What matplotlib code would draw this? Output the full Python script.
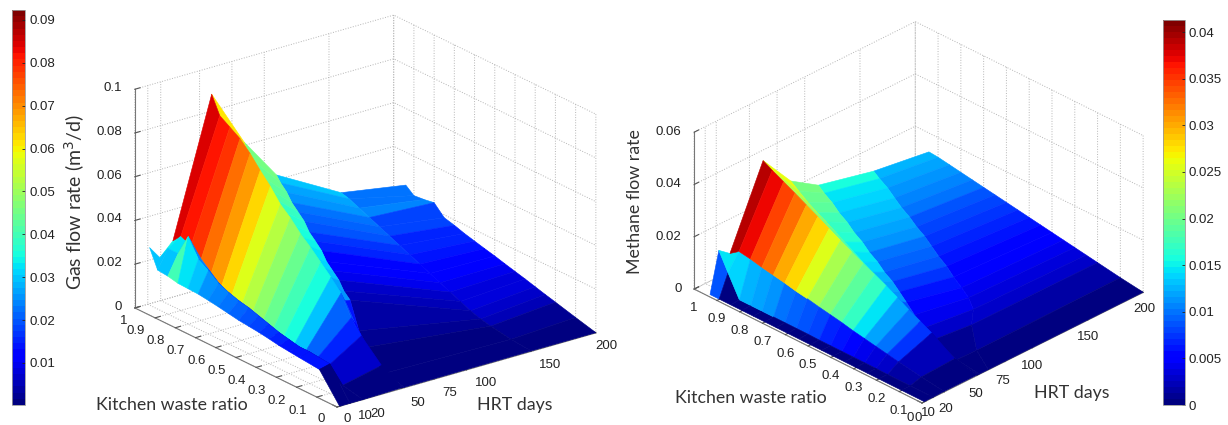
import numpy as np
import matplotlib
matplotlib.use("Agg")
import matplotlib.pyplot as plt
from matplotlib.colors import Normalize
from matplotlib.cm import ScalarMappable
from mpl_toolkits.mplot3d import proj3d

W, H = 1228, 425
plt.rcParams['font.family'] = ['Liberation Sans', 'DejaVu Sans']

# grid
ratio = [0, .1, .2, .25, .3, .35, .4, .45, .5, .55, .6, .65, .7, .75, .8, .85, .9, .94]
n = len(ratio)

gas_2 = [0, .0123, .0132, .0137, .0142, .015, .0157, .0162, .0167, .0175, .0183, .019, .0196, .0198, .020, .021, .0215, .030]
gas_10 = [0, .0135, .0145, .0145, .0155, .0165, .018, .0195, .021, .022, .0235, .0255, .029, .032, .040, .030, .030, .024]
gas_20 = [0, .002, .004, .005, .006, .0075, .009, .0105, .012, .014, .016, .018, .020, .024, .028, .032, .034, .030]
gas_50 = [.0003, .006, .015, .021, .030, .035, .0395, .044, .048, .053, .057, .063, .068, .0735, .078, .081, .084, .092]
gas_75 = [.0002, .003, .012, .018, .026, .030, .032, .034, .036, .039, .041, .044, .047, .050, .053, .056, .061, .0659]
gas_100 = [.0002, .002, .009, .014, .0256, .027, .029, .0305, .032, .034, .0356, .037, .039, .0405, .042, .0437, .0453, .0466]
gas_150 = [.0002, .001, .0025, .0035, .005, .007, .009, .011, .013, .015, .017, .019, .021, .023, .025, .027, .029, .030]
gas_200 = [.0001, .0025, .005, .0062, .0075, .0088, .010, .0112, .0125, .0136, .0148, .016, .0175, .0187, .0233, .0225, .022, .025]

# the far rows lean towards small HRT at small ratio
gas_h75 = [51, 51, 52, 53, 53, 54, 56, 58, 59, 61, 62, 64, 66, 68, 69, 71, 73, 75]
gas_h100 = [52, 53, 55, 56, 57, 60, 64, 67, 70, 74, 77, 80, 84, 87, 90, 94, 97, 100]

ch4_2 = [.0001] * n
ch4_10 = [.0001, .0001, .0001, .0002, .0002, .0002, .0002, .0002, .0002, .0003, .0003, .0003, .0003, .0003, .0003, .0003, .0085, .0153]
ch4_20 = [.0002, .0014, .0028, .0036, .0044, .0052, .006, .007, .0078, .0086, .0095, .0102, .0112, .012, .0128, .0138, .0145, .012]
ch4_50 = [.0002, .002, .0075, .0098, .012, .0145, .0168, .019, .021, .0232, .0255, .0278, .0302, .0325, .0348, .037, .0392, .0412]
ch4_75 = [.0001, .0013, .005, .007, .0095, .012, .0135, .0148, .016, .0172, .0185, .0197, .021, .0222, .0232, .0245, .0262, .0281]
ch4_100 = [.0001, .0012, .0045, .0065, .009, .011, .012, .0129, .0137, .0146, .0154, .0163, .0171, .018, .0188, .0197, .0205, .0212]
ch4_150 = [.0001, .001, .003, .0042, .0052, .006, .0073, .0084, .0094, .0102, .011, .0118, .0125, .0133, .014, .0148, .0155, .016]
ch4_200 = [.0001, .0013, .0027, .0034, .0041, .0048, .0055, .0062, .0069, .0076, .0083, .009, .0097, .0104, .0111, .0118, .0125, .0128]

ch4_h75 = [51, 51, 51, 52, 52, 54, 55, 57, 58, 60, 62, 64, 66, 68, 70, 72, 74, 75]
ch4_h100 = [52, 52, 53, 54, 55, 58, 62, 66, 69, 73, 76, 80, 83, 87, 90, 94, 97, 100]
ch4_h150 = [60, 70, 86, 98, 104, 108, 111, 115, 118, 122, 126, 129, 133, 136, 140, 144, 147, 150]

gas = np.array([gas_2, gas_10, gas_20, gas_50, gas_75, gas_100, gas_150, gas_200])
ch4 = np.array([ch4_2, ch4_10, ch4_20, ch4_50, ch4_75, ch4_100, ch4_150, ch4_200])
gas_x = np.array([[2] * n, [10] * n, [20] * n, [50] * n, gas_h75, gas_h100, [150] * n, [200] * n], dtype=float)
ch4_x = np.array([[2] * n, [10] * n, [20] * n, [50] * n, ch4_h75, ch4_h100, ch4_h150, [200] * n], dtype=float)

hrt_ticks = [0, 10, 20, 50, 75, 100, 150, 200]
hrt_labels = ['0', '10', '20', '50', '75', '100', '150', '200']
ratio_ticks = [0, .1, .2, .3, .4, .5, .6, .7, .8, .9, 1]
ratio_labels = ['0', '0.1', '0.2', '0.3', '0.4', '0.5', '0.6', '0.7', '0.8', '0.9', '1']
gas_ticks = [0, .02, .04, .06, .08, .1]
gas_labels = ['0', '0.02', '0.04', '0.06', '0.08', '0.1']
ch4_ticks = [0, .02, .04, .06]
ch4_labels = ['0', '0.02', '0.04', '0.06']
gas_bar_ticks = [.01, .02, .03, .04, .05, .06, .07, .08, .09]
ch4_bar_ticks = [0, .005, .01, .015, .02, .025, .03, .035, .04]
ch4_bar_labels = ['0', '0.005', '0.01', '0.015', '0.02', '0.025', '0.03', '0.035', '0.04']

jet = plt.get_cmap('jet', 64)
fig = plt.figure(figsize=(W / 100, H / 100), dpi=100)
tick_font = dict(fontsize=9.5, color='#222222')


def px_rect(l, t, w, h):
    return [l / W, 1 - (t + h) / H, w / W, h / H]


def to_px(ax, x, y, z):
    xs, ys, _ = proj3d.proj_transform(x, y, z, ax.get_proj())
    return ax.transData.transform((xs, ys))


def surface(xgrid, z, zmax, zticks, clim, elev, azim, aspect, left, front, right):
    ax = fig.add_axes(px_rect(0, 0, 600, 600), projection='3d')
    ax.set_proj_type('ortho')
    ax.set_box_aspect(aspect)
    ax.view_init(elev=elev, azim=azim)
    ax.patch.set_alpha(0)
    Y = np.array([ratio] * len(z))
    # matlab flat shading: colour of a facet comes from one of its vertices
    cols = jet(Normalize(*clim)(z))
    ax.plot_surface(xgrid[::-1], Y[::-1], z[::-1], facecolors=cols[::-1],
                    shade=False, rstride=1, cstride=1, linewidth=.4)
    ax.set_xlim(0, 200, view_margin=0)
    ax.set_ylim(0, 1, view_margin=0)
    ax.set_zlim(0, zmax, view_margin=0)
    ax.set_xticks(hrt_ticks)
    ax.set_yticks(ratio_ticks)
    ax.set_zticks(zticks)
    ax.set_xticklabels([])
    ax.set_yticklabels([])
    ax.set_zticklabels([])
    for axis in (ax.xaxis, ax.yaxis, ax.zaxis):
        axis.set_pane_color((1, 1, 1, 0))
        axis.pane.set_edgecolor('#bbbbbb')
        axis.pane.set_linestyle(':')
        axis.pane.set_linewidth(.7)
        axis.line.set_color('#777777')
        axis.line.set_linewidth(.8)
        axis._axinfo['grid'].update(color='#b5b5b5', linestyle=':', linewidth=.7)
        axis._axinfo['tick'].update(inward_factor=0.0, outward_factor=.25)
    ax.tick_params(axis='both', colors='#555555')

    # move the box on to the pixels of the reference corners
    for i in range(3):
        fig.canvas.draw()
        p0 = to_px(ax, 0, 1, 0)
        p1 = to_px(ax, 0, 0, 0)
        p2 = to_px(ax, 200, 0, 0)
        pos = ax.get_position(original=True)
        size = pos.width * W * (right[0] - left[0]) / (p2[0] - p0[0])
        cx = pos.x0 * W + pos.width * W / 2
        cy = pos.y0 * H + pos.height * H / 2
        if i > 0:
            cx += front[0] - p1[0]
            cy += (H - front[1]) - p1[1]
        ax.set_position([(cx - size / 2) / W, (cy - size / 2) / H, size / W, size / H])
    fig.canvas.draw()
    return ax


def put_label(ax, p, text, off, ha='center'):
    x, y = to_px(ax, *p)
    fig.text((x + off[0]) / W, (y - off[1]) / H, text, ha=ha, va='center', **tick_font)


def colorbar(rect, clim, ticks, labels):
    cax = fig.add_axes(px_rect(*rect))
    cb = fig.colorbar(ScalarMappable(Normalize(*clim), jet), cax=cax)
    cb.set_ticks(ticks)
    if labels is not None:
        cb.set_ticklabels(labels)
    cax.tick_params(labelsize=9.5, length=2, direction='in', pad=3, colors='#222222', width=.6)
    cb.outline.set_edgecolor('#999999')
    cb.outline.set_linewidth(.6)


clim_gas = (.0002, .0923)
clim_ch4 = (0, .0413)

ax1 = surface(gas_x, gas, .1, gas_ticks, clim_gas, 22, -127.4, (326, 333, 236),
              (135, 308), (337, 407), (596, 333))
ax2 = surface(ch4_x, ch4, .06, ch4_ticks, clim_ch4, 30, -135, (312.5, 322, 181),
              (694, 288), (922, 403), (1143, 292))

# tick labels, placed by hand relative to their ticks
off1 = [(10, 12), (15, 13), (15, 14), (16, 14.5), (16, 14), (19.5, 13), (19, 13.5), (11, 13)]
for t, s, o in zip(hrt_ticks, hrt_labels, off1):
    put_label(ax1, (t, 0, 0), s, o)
for t, s in zip(ratio_ticks, ratio_labels):
    o = (-15.5, 12) if t == 0 else (-11.5, 13) if t == 1 else (-19.5, 13.5)
    put_label(ax1, (0, t, 0), s, o)
for t, s in zip(gas_ticks, gas_labels):
    put_label(ax1, (0, 1, t), s, (-13, -1), ha='right')

off2 = [(-4, 15), (-5, 16), (2, 17), (-2, 19), (-2, 19), (0, 18.5), (0, 17), (1, 17)]
for t, s, o in zip(hrt_ticks, hrt_labels, off2):
    put_label(ax2, (t, 0, 0), s, o)
for t, s in zip(ratio_ticks, ratio_labels):
    o = (-12, 15) if t == 0 else (0, 19)
    put_label(ax2, (0, t, 0), s, o)
for t, s in zip(ch4_ticks, ch4_labels):
    put_label(ax2, (0, 1, t), s, (-12.5, 0), ha='right')

colorbar((12, 10, 13, 395), clim_gas, gas_bar_ticks, None)
colorbar((1163, 20, 21.5, 385), clim_ch4, ch4_bar_ticks, ch4_bar_labels)

lab = dict(family='Lato', fontsize=12.8, color='#333333', ha='center', va='center')
fig.text(172 / W, 1 - 405 / H, 'Kitchen waste ratio', **lab)
fig.text(515 / W, 1 - 405 / H, 'HRT days', **lab)
fig.text(751 / W, 1 - 398 / H, 'Kitchen waste ratio', **lab)
fig.text(1072 / W, 1 - 393 / H, 'HRT days', **lab)
fig.text(75 / W, 1 - 202 / H, 'Gas flow rate (m$^3$/d)', rotation=90,
         **{**lab, 'fontsize': 14})
fig.text(635.5 / W, 1 - 202 / H, 'Methane flow rate', rotation=90, **lab)

fig.savefig('out.png', dpi=100)
